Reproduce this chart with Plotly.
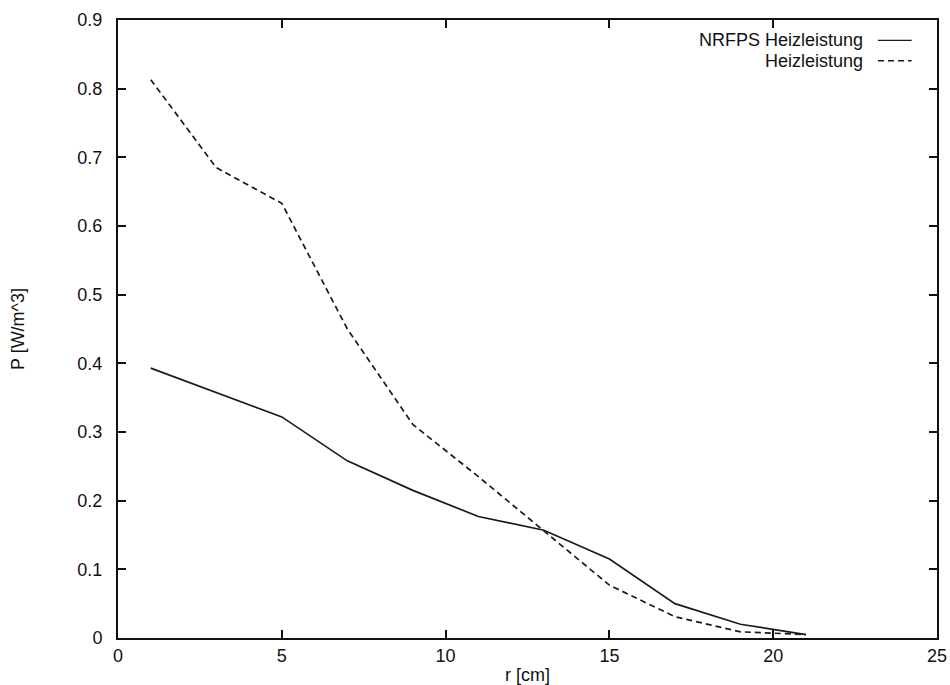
import plotly.graph_objects as go

r_cm = [1, 3, 5, 7, 9, 11, 13, 15, 17, 19, 21]
nrfps = [0.393, 0.358, 0.322, 0.258, 0.215, 0.177, 0.157, 0.115, 0.050, 0.020, 0.005]
heiz = [0.813, 0.685, 0.633, 0.450, 0.311, 0.235, 0.156, 0.077, 0.031, 0.009, 0.005]
x_ticks = [0, 5, 10, 15, 20, 25]
y_ticks = [0, 0.1, 0.2, 0.3, 0.4, 0.5, 0.6, 0.7, 0.8, 0.9]
labels = ["NRFPS Heizleistung", "Heizleistung"]

FONT = "Liberation Sans, Arial, Helvetica, sans-serif"
FS = 18

fig = go.Figure()
fig.add_trace(go.Scatter(x=r_cm, y=nrfps, mode="lines", name=labels[0],
                         line=dict(color="#1a1a1a", width=1.7), showlegend=False))
fig.add_trace(go.Scatter(x=r_cm, y=heiz, mode="lines", name=labels[1],
                         line=dict(color="#1a1a1a", width=1.7, dash="6px,4px"), showlegend=False))

# gnuplot-style legend: right-aligned text with line sample on the right
leg_y = [0.967, 0.934]
for i, (lab, dash) in enumerate(zip(labels, ["solid", "6px,4px"])):
    fig.add_annotation(x=0.911, y=leg_y[i], xref="paper", yref="paper", text=lab,
                       showarrow=False, xanchor="right", yanchor="middle", borderpad=0,
                       font=dict(family=FONT, size=FS, color="#111"))
    fig.add_shape(type="line", xref="paper", yref="paper", x0=0.928, x1=0.969,
                  y0=leg_y[i], y1=leg_y[i], line=dict(color="#1a1a1a", width=1.4, dash=dash))

axis_common = dict(showgrid=False, zeroline=False, showline=True, linecolor="#111", linewidth=2,
                   mirror="ticks", ticks="inside", ticklen=8, tickwidth=1.6, tickcolor="#111",
                   tickfont=dict(family=FONT, size=FS, color="#111"), automargin=False)

fig.update_xaxes(range=[0, 25], tickvals=x_ticks, ticktext=[str(v) for v in x_ticks],
                 title=dict(text="r [cm]", font=dict(family=FONT, size=FS, color="#111"), standoff=4),
                 **axis_common)
fig.update_yaxes(range=[0, 0.9], tickvals=y_ticks, ticktext=["0"] + [f"{v:.1f}" for v in y_ticks[1:]],
                 ticklabelstandoff=10,
                 title=dict(text="P [W/m^3]", font=dict(family=FONT, size=FS, color="#111"), standoff=48),
                 **axis_common)

fig.update_layout(width=950, height=685, margin=dict(l=118, r=13, t=20, b=47),
                  plot_bgcolor="white", paper_bgcolor="white", font=dict(family=FONT, color="#111"))

fig.write_html("out.html")
